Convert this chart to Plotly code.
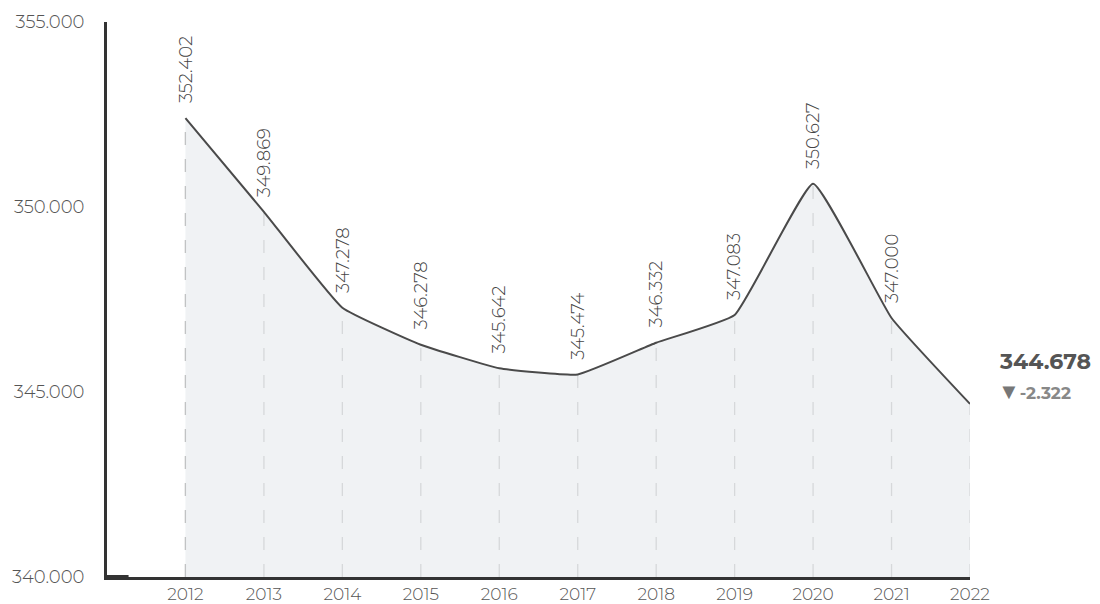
import plotly.graph_objects as go

years = [2012, 2013, 2014, 2015, 2016, 2017, 2018, 2019, 2020, 2021, 2022]
values = [352402, 349869, 347278, 346278, 345642, 345474, 346332, 347083, 350627, 347000, 344678]
y_ticks = [340000, 345000, 350000, 355000]

FONT = "Montserrat, 'Open Sans', Lato, sans-serif"


def fmt(v):
    s = f"{abs(v):,}".replace(",", ".")
    return ("-" if v < 0 else "") + s


fig = go.Figure()

# dashed drop lines
dx, dy = [], []
for x, v in zip(years, values):
    dx += [x, x, None]
    dy += [y_ticks[0], v, None]
fig.add_trace(go.Scatter(x=dx, y=dy, mode="lines",
                         line=dict(color="#a8a8a8", width=1.3, dash="13px,14px"),
                         hoverinfo="skip", showlegend=False))

# area + line
fig.add_trace(go.Scatter(x=years, y=values, mode="lines",
                         line=dict(color="#4a4a4a", width=2, shape="spline", smoothing=0.35),
                         fill="tozeroy", fillcolor="rgba(234,236,240,0.7)",
                         showlegend=False))

# value labels
for x, v in zip(years[:-1], values[:-1]):
    fig.add_annotation(x=x, y=v, xref="x", yref="y", text=fmt(v), showarrow=False,
                       textangle=-90, yanchor="bottom", xanchor="center", yshift=13,
                       font=dict(family=FONT, size=18, color="#444444", weight=300))

last = values[-1]
change = values[-1] - values[-2]
fig.add_annotation(x=1.0, y=values[-1], xref="paper", yref="y", text=f"<b>{fmt(last)}</b>",
                   showarrow=False, xanchor="left", yanchor="middle", xshift=27, yshift=42,
                   font=dict(family=FONT, size=22, color="#555555"))
fig.add_annotation(x=1.0, y=values[-1], xref="paper", yref="y",
                   text=f"<span style='color:#777777;font-family:DejaVu Sans;font-size:22px'>▼</span><b>{fmt(change)}</b>",
                   showarrow=False, xanchor="left", yanchor="middle", xshift=26, yshift=12,
                   font=dict(family=FONT, size=17, color="#888888"))

# small thick segment at origin
fig.add_shape(type="line", xref="paper", yref="paper", x0=0, x1=0.025, y0=0, y1=0,
              line=dict(color="#333333", width=4))

fig.update_layout(
    width=1100, height=604,
    margin=dict(l=107, r=130, t=22, b=27, autoexpand=False),
    paper_bgcolor="white", plot_bgcolor="white",
    separators=",.",
    font=dict(family=FONT, size=18, color="#555555", weight=300),
    xaxis=dict(range=[2011, 2022], tickvals=years, ticktext=[str(y) for y in years],
               showgrid=False, zeroline=False, showline=True, linecolor="#333333", linewidth=2.5,
               ticks="", ticklabelstandoff=0, automargin=False,
               tickfont=dict(family=FONT, size=17, color="#555555", weight=300)),
    yaxis=dict(range=[340000, 355000], tickvals=y_ticks, tickformat=",d",
               showgrid=False, zeroline=False, showline=True, linecolor="#333333", linewidth=3,
               ticks="", ticklabelstandoff=16, automargin=False,
               tickfont=dict(family=FONT, size=18, color="#555555", weight=300)),
)

fig.write_html("out.html", config={"displayModeBar": False},
               post_script="document.body.style.margin='0';")
